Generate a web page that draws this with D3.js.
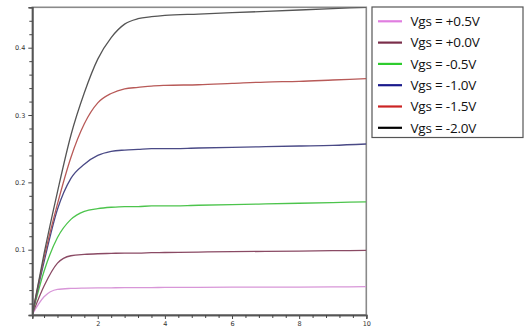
<!DOCTYPE html>
<html><head><meta charset="utf-8">
<script src="https://cdn.jsdelivr.net/npm/d3@7"></script>
<style>body{margin:0;background:#fff}svg{display:block}</style>
</head><body><svg id="c" width="525" height="329"></svg>
<script>
const vds = [0.05, 0.4, 0.8, 1.2, 1.6, 2.0, 2.4, 2.8, 3.2, 3.6, 4.0, 5, 6, 7, 8, 9, 10];
const seriesNames = ["Vgs = +0.5V","Vgs = +0.0V","Vgs = -0.5V","Vgs = -1.0V","Vgs = -1.5V","Vgs = -2.0V"];
const idP05 = [0.004,0.030,0.041,0.0425,0.043,0.0432,0.0434,0.0436,0.0437,0.0438,0.0439,0.0441,0.0443,0.0444,0.0445,0.0448,0.045];
const idP00 = [0.004,0.046,0.080,0.091,0.093,0.094,0.0945,0.095,0.095,0.0955,0.0958,0.0965,0.097,0.0975,0.098,0.0985,0.099];
const idM05 = [0.004,0.068,0.118,0.145,0.157,0.161,0.163,0.164,0.164,0.165,0.165,0.166,0.167,0.168,0.169,0.170,0.171];
const idM10 = [0.004,0.082,0.160,0.206,0.227,0.240,0.246,0.248,0.249,0.250,0.250,0.251,0.252,0.253,0.254,0.255,0.257];
const idM15 = [0.004,0.088,0.168,0.237,0.287,0.318,0.332,0.339,0.341,0.343,0.344,0.345,0.347,0.349,0.350,0.352,0.354];
const idM20 = [0.004,0.094,0.186,0.270,0.333,0.383,0.415,0.435,0.443,0.446,0.448,0.450,0.452,0.454,0.456,0.458,0.460];
const seriesValues = [idP05, idP00, idM05, idM10, idM15, idM20];
const plotColors = ["#d896d8","#8a4a64","#4cc44c","#4a4a86","#b85a58","#555555"];
const legendColors = ["#e07ee0","#7a2e4a","#2ecc2e","#1a1a8c","#cc2424","#000000"];
const xMajor = [2,4,6,8,10];
const yMajor = [0.1,0.2,0.3,0.4];
const yMajorLabels = ["0.1","0.2","0.3","0.4"];

const svg = d3.select("#c");
const L = 32.3, R = 366.3, T = 7.3, B = 315;
const x = d3.scaleLinear().domain([0.05, 10]).range([L, R]);
const y = d3.scaleLinear().domain([0.003, 0.46]).range([B, T]);

svg.append("defs").append("clipPath").attr("id","pc")
  .append("rect").attr("x",L).attr("y",T).attr("width",R-L).attr("height",B-T);

// frame
svg.append("rect").attr("x",L).attr("y",T).attr("width",R-L).attr("height",B-T)
  .attr("fill","none").attr("stroke","#8a8a8a").attr("stroke-width",1.6);

const line = d3.line().x((d,i)=>x(vds[i])).y(d=>y(d)).curve(d3.curveMonotoneX);
const g = svg.append("g").attr("clip-path","url(#pc)");
seriesValues.forEach((vals,k)=>{
  g.append("path").attr("d", line(vals)).attr("fill","none")
   .attr("stroke", plotColors[k]).attr("stroke-width",1.3).attr("stroke-linejoin","round");
});

// minor ticks
const xMinor = d3.range(0.4, 10.01, 0.4).filter(v=>Math.abs(v/2-Math.round(v/2))>0.01);
const yMinor = d3.range(0.02, 0.45, 0.02).filter(v=>Math.abs(v*10-Math.round(v*10))>0.01);

const xAxis = d3.axisBottom(x).tickValues(xMajor).tickSize(4).tickPadding(2).tickFormat(d3.format("d"));
const xA = svg.append("g").attr("transform",`translate(0,${B})`).call(xAxis);
const xAm = svg.append("g").attr("transform",`translate(0,${B})`).call(d3.axisBottom(x).tickValues(xMinor).tickSize(3).tickFormat(""));
const yAxis = d3.axisLeft(y).tickValues(yMajor).tickSize(4).tickPadding(3).tickFormat((d,i)=>yMajorLabels[i]);
const yA = svg.append("g").attr("transform",`translate(${L},0)`).call(yAxis);
const yAm = svg.append("g").attr("transform",`translate(${L},0)`).call(d3.axisLeft(y).tickValues(yMinor).tickSize(3).tickFormat(""));
[xA,xAm,yA,yAm].forEach(a=>{
  a.select(".domain").attr("stroke","#555").attr("stroke-width",1.4);
  a.selectAll(".tick line").attr("stroke","#444").attr("stroke-width",1);
  a.selectAll("text").attr("font-family","DejaVu Sans, sans-serif").attr("font-size",6.5).attr("fill","#333");
});

// legend
const lg = svg.append("g");
lg.append("rect").attr("x",372).attr("y",7).attr("width",151).attr("height",130.5)
  .attr("fill","#fff").attr("stroke","#555").attr("stroke-width",1.2);
seriesNames.forEach((name,k)=>{
  const yy = 21.3 + k*21.3;
  lg.append("line").attr("x1",378).attr("x2",402).attr("y1",yy).attr("y2",yy)
    .attr("stroke",legendColors[k]).attr("stroke-width",2.2);
  lg.append("text").attr("x",410.5).attr("y",yy+4.8).text(name)
    .attr("font-family","Open Sans, sans-serif").attr("font-size",13.5)
    .attr("letter-spacing",-0.2).attr("fill","#111");
});
</script></body></html>
